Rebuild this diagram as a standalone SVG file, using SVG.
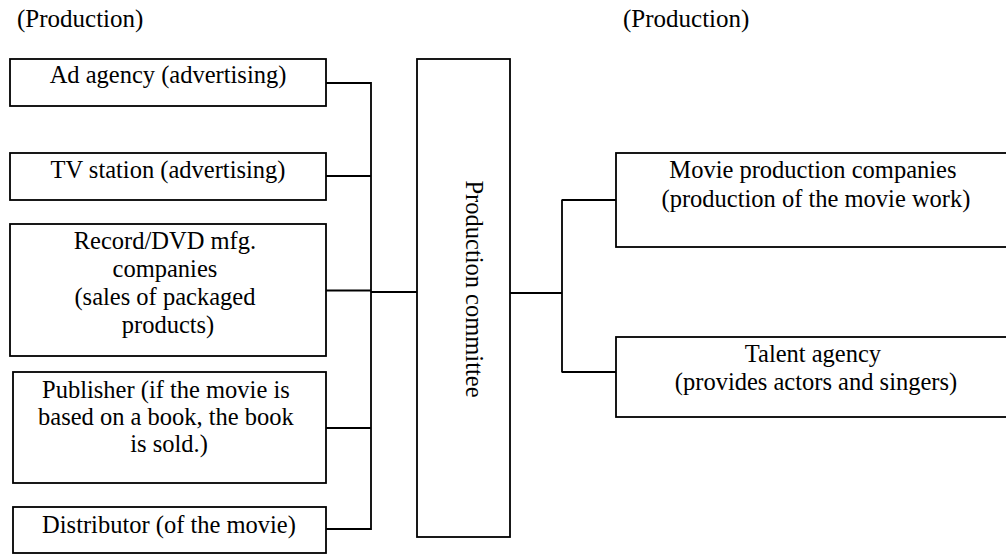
<svg xmlns="http://www.w3.org/2000/svg" width="1006" height="554" viewBox="0 0 1006 554">
  <style>
    .box { fill: #fff; stroke: #000; stroke-width: 1.8; }
    .wire { fill: none; stroke: #000; stroke-width: 1.8; }
    .lbl { font-family: "Liberation Serif", "Times New Roman", serif; font-size: 24.5px; fill: #000; text-anchor: middle; }
    .title { font-family: "Liberation Serif", "Times New Roman", serif; font-size: 25px; fill: #000; }
  </style>

  <rect width="1006" height="554" fill="#fff"/>

  <!-- section headings -->
  <text class="title" x="17" y="27">(Production)</text>
  <text class="title" x="623" y="27">(Production)</text>

  <!-- connectors -->
  <g id="connectors">
    <path class="wire" d="M326 83 H371 M326 176 H371 M326 290.5 H371 M326 428 H371 M326 529 H371 M371 82 V530"/>
    <path class="wire" d="M371 292 H417"/>
    <path class="wire" d="M510 293 H562 M562 199.5 V372.5 M562 200 H616 M562 372 H616"/>
  </g>

  <g id="ad-agency">
    <rect class="box" x="10" y="59" width="316" height="47"/>
    <text class="lbl" x="168" y="83">Ad agency (advertising)</text>
  </g>

  <g id="tv-station">
    <rect class="box" x="10" y="153" width="316" height="47"/>
    <text class="lbl" x="168" y="178">TV station (advertising)</text>
  </g>

  <g id="record-dvd">
    <rect class="box" x="10" y="224" width="316" height="132"/>
    <text class="lbl">
      <tspan x="168" y="249">Record/DVD mfg.</tspan>
      <tspan x="168" y="277">companies</tspan>
      <tspan x="168" y="305">(sales of packaged</tspan>
      <tspan x="168" y="333">products)</tspan>
    </text>
  </g>

  <g id="publisher">
    <rect class="box" x="13" y="372" width="313" height="111"/>
    <text class="lbl">
      <tspan x="169" y="398">Publisher (if the movie is</tspan>
      <tspan x="169" y="425">based on a book, the book</tspan>
      <tspan x="169" y="452">is sold.)</tspan>
    </text>
  </g>

  <g id="distributor">
    <rect class="box" x="13" y="507" width="313" height="46"/>
    <text class="lbl" x="169" y="533">Distributor (of the movie)</text>
  </g>

  <g id="production-committee">
    <rect class="box" x="417" y="59" width="93" height="478"/>
    <text class="lbl" transform="translate(466 289) rotate(90)">Production committee</text>
  </g>

  <g id="movie-production">
    <rect class="box" x="616" y="153" width="400" height="94"/>
    <text class="lbl">
      <tspan x="816" y="178">Movie production companies</tspan>
      <tspan x="816" y="207">(production of the movie work)</tspan>
    </text>
  </g>

  <g id="talent-agency">
    <rect class="box" x="616" y="337" width="400" height="80"/>
    <text class="lbl">
      <tspan x="816" y="362">Talent agency</tspan>
      <tspan x="816" y="390">(provides actors and singers)</tspan>
    </text>
  </g>
</svg>
